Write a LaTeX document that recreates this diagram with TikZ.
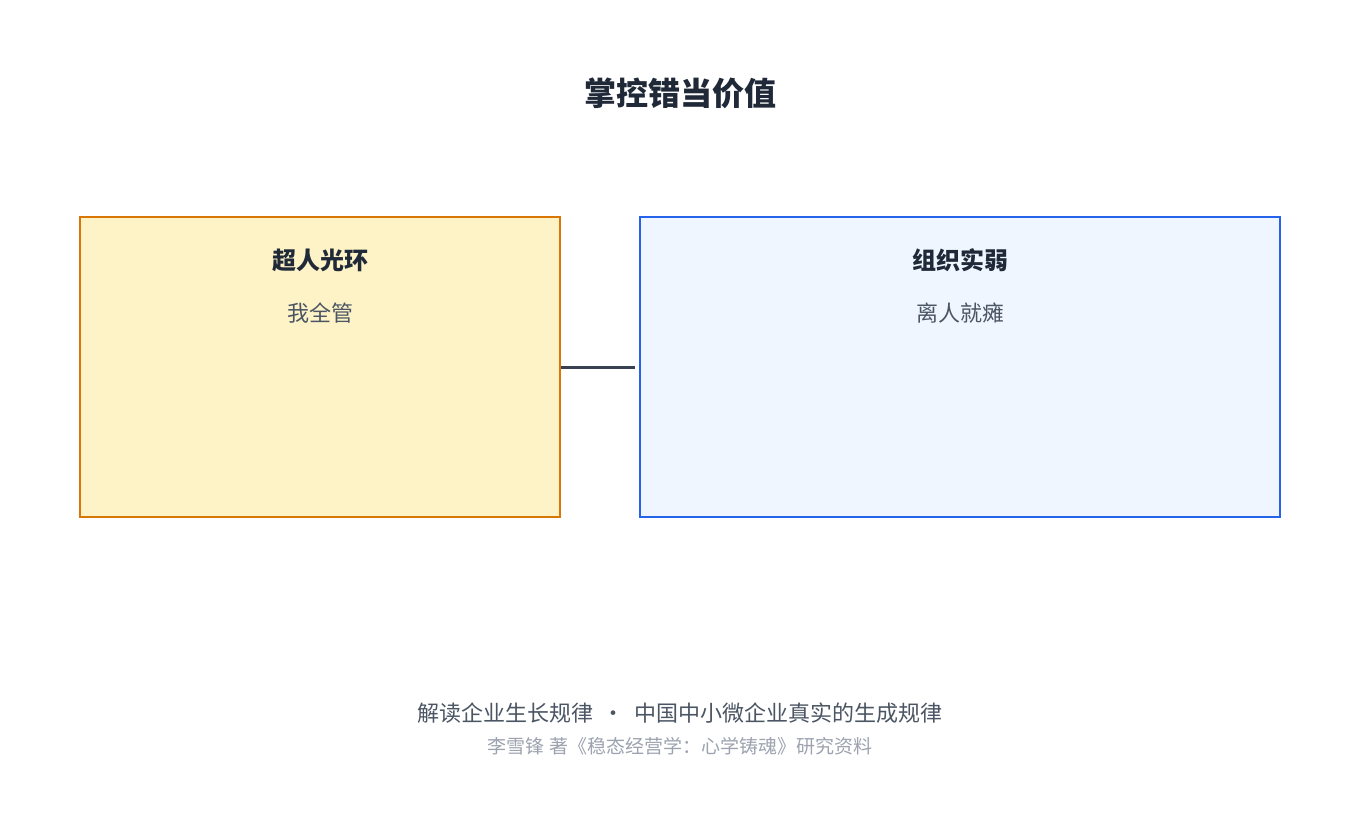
\documentclass[tikz,border=0pt]{standalone}
\usepackage{fontspec}
\setmainfont{Noto Sans CJK SC}
\newfontfamily\cjkb{Noto Sans CJK SC}[FakeBold=1.5]
\definecolor{dark}{HTML}{1F2937}
\definecolor{mid}{HTML}{4B5563}
\definecolor{light}{HTML}{9CA3AF}
\definecolor{oline}{HTML}{D97706}
\definecolor{ofill}{HTML}{FEF3C7}
\definecolor{bline}{HTML}{2563EB}
\definecolor{bfill}{HTML}{EFF6FF}
\definecolor{conn}{HTML}{374151}
\begin{document}
\begin{tikzpicture}[x=1pt,y=-1pt,
  box/.style={draw,line width=2.5pt,inner sep=0pt},
  ttl/.style={font=\fontsize{24}{28}\selectfont\bfseries,text=dark},
  sub/.style={font=\fontsize{22}{26}\selectfont,text=mid}]
\useasboundingbox[fill=white] (0,0) rectangle (1360,830);
\node[font=\fontsize{32}{36}\selectfont\bfseries,text=dark] (title) at (680,93) {掌控错当价值};
\node[box,draw=oline,fill=ofill,minimum width=480pt,minimum height=300pt] (L) at (320,367) {};
\node[box,draw=bline,fill=bfill,minimum width=640pt,minimum height=300pt] (R) at (960,367) {};
\node[ttl] (lt) at (320,260) {超人光环};
\node[sub] (ls) at (320,313) {我全管};
\node[ttl] (rt) at (960,260) {组织实弱};
\node[sub] (rs) at (960,313) {离人就瘫};
\draw[conn,line width=3pt,shorten >=4pt] (L.east) -- (R.west);
\node[font=\fontsize{22}{26}\selectfont,text=mid] (f1) at (680,713) {解读企业生长规律 \ • \ 中国中小微企业真实的生成规律};
\node[font=\fontsize{19}{23}\selectfont,text=light] (f2) at (680,746) {李雪锋 著《稳态经营学：心学铸魂》研究资料};
\end{tikzpicture}
\end{document}
